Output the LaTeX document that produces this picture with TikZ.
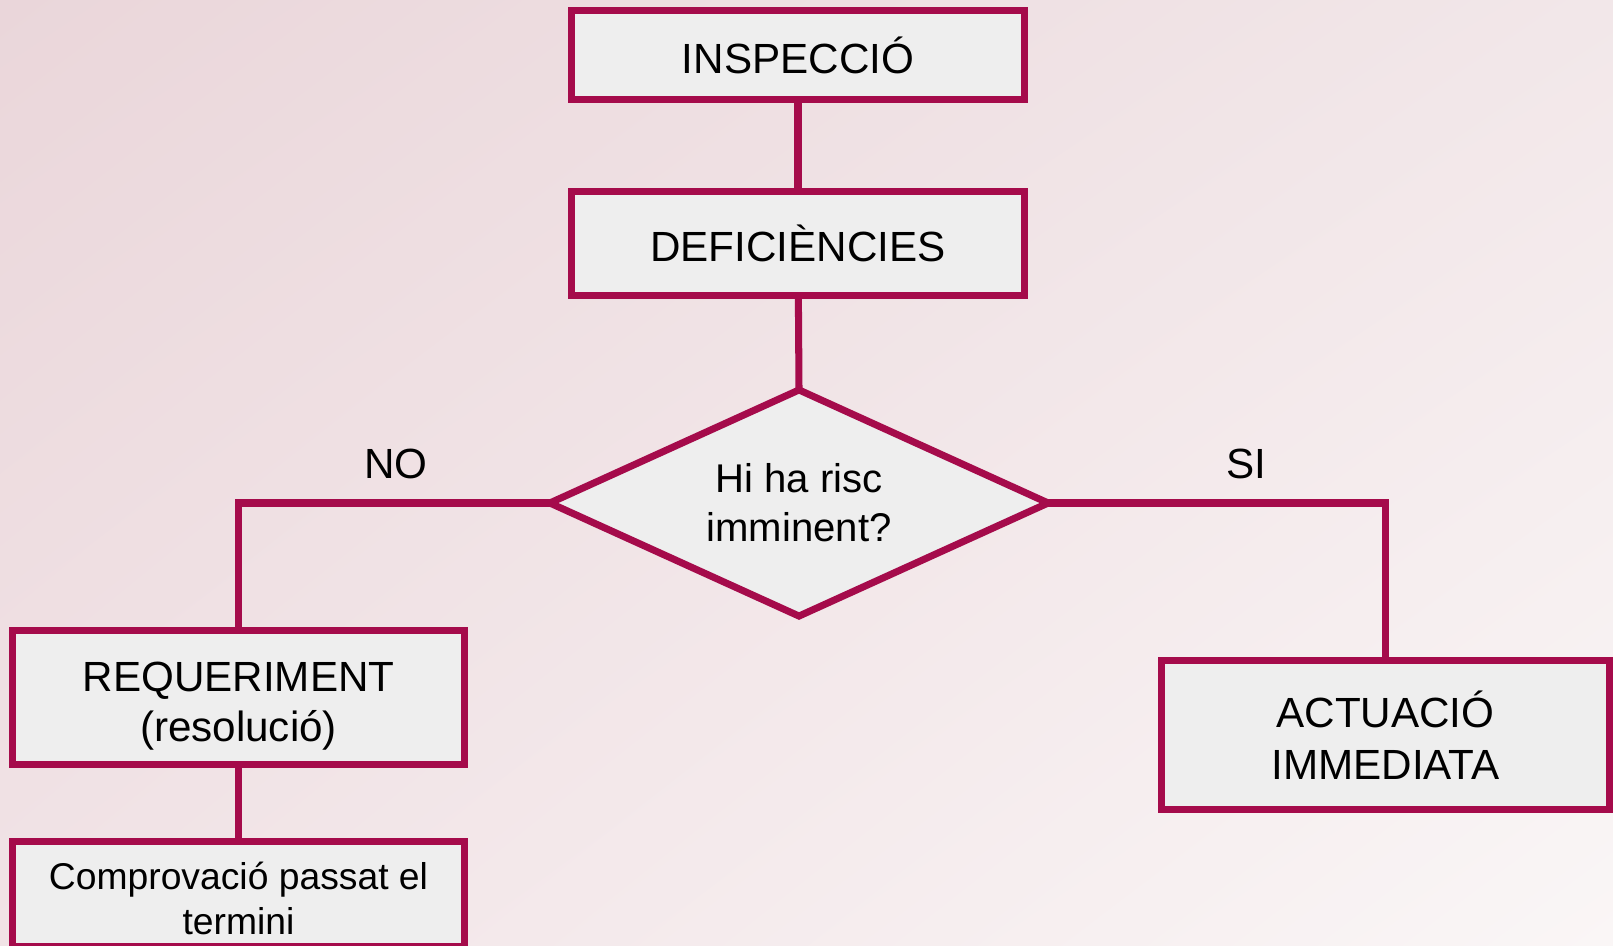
\documentclass[tikz,border=0pt]{standalone}
\usepackage{fontspec}
\setmainfont{Liberation Sans}
\usetikzlibrary{shapes.geometric, shadings}

\definecolor{vora}{HTML}{A50B4B}
\definecolor{farciment}{HTML}{EEEEEE}
\definecolor{fonsA}{HTML}{EAD6DA}
\definecolor{fonsB}{HTML}{F2E7E9}
\definecolor{fonsC}{HTML}{F1E3E6}
\definecolor{fonsD}{HTML}{FAF6F6}

\tikzset{
  caixa/.style={draw=vora, fill=farciment, line width=2pt, rectangle, align=center, inner sep=0pt, outer sep=0pt, minimum width=4.52cm},
  rombe/.style={draw=vora, fill=farciment, line width=2pt, diamond, aspect=2, align=center, inner sep=0pt, outer sep=0pt, minimum width=4.98cm, minimum height=2.26cm},
  enllac/.style={draw=vora, line width=2pt},
  gran/.style={font=\fontsize{12}{13.4}\selectfont},
}

\begin{document}
\begin{tikzpicture}[x=0.01cm, y=-0.01cm]
% Fons
\shade[upper left=fonsA, upper right=fonsB, lower left=fonsC, lower right=fonsD] (0,0) rectangle (1613,946);
\useasboundingbox (0,0) rectangle (1613,946);
\node[caixa, gran, minimum height=0.89cm] (insp) at (798,55) {INSPECCIÓ};
\node[caixa, gran, minimum height=1.04cm] (defic) at (798,243.5) {DEFICIÈNCIES};
\node[rombe, font=\fontsize{11.4}{14}\selectfont] (risc) at (799,503) {Hi ha risc\\imminent?};
\node[caixa, font=\fontsize{12}{14.4}\selectfont, minimum height=1.34cm] (req) at (238.5,697.5) {\rule{0pt}{13.2pt}REQUERIMENT\\(resolució)};
\node[caixa, font=\fontsize{10.6}{12.9}\selectfont, minimum height=1.05cm] (comp) at (238.5,894) {\rule{0pt}{10.2pt}Comprovació passat el\\termini};
\node[caixa, font=\fontsize{12}{14.8}\selectfont, minimum width=4.48cm, minimum height=1.49cm] (act) at (1385.5,735) {ACTUACIÓ\\IMMEDIATA};
\node[gran] (lno) at (396,464) {NO};
\node[gran] (lsi) at (1246,464) {SI};
% Connexions
\draw[enllac] (insp)--(defic);
\draw[enllac] (defic)--(risc.north);
\draw[enllac] (risc.west) -| (req.north);
\draw[enllac] (risc.east) -| (act.north);
\draw[enllac] (req)--(comp);
\end{tikzpicture}
\end{document}
